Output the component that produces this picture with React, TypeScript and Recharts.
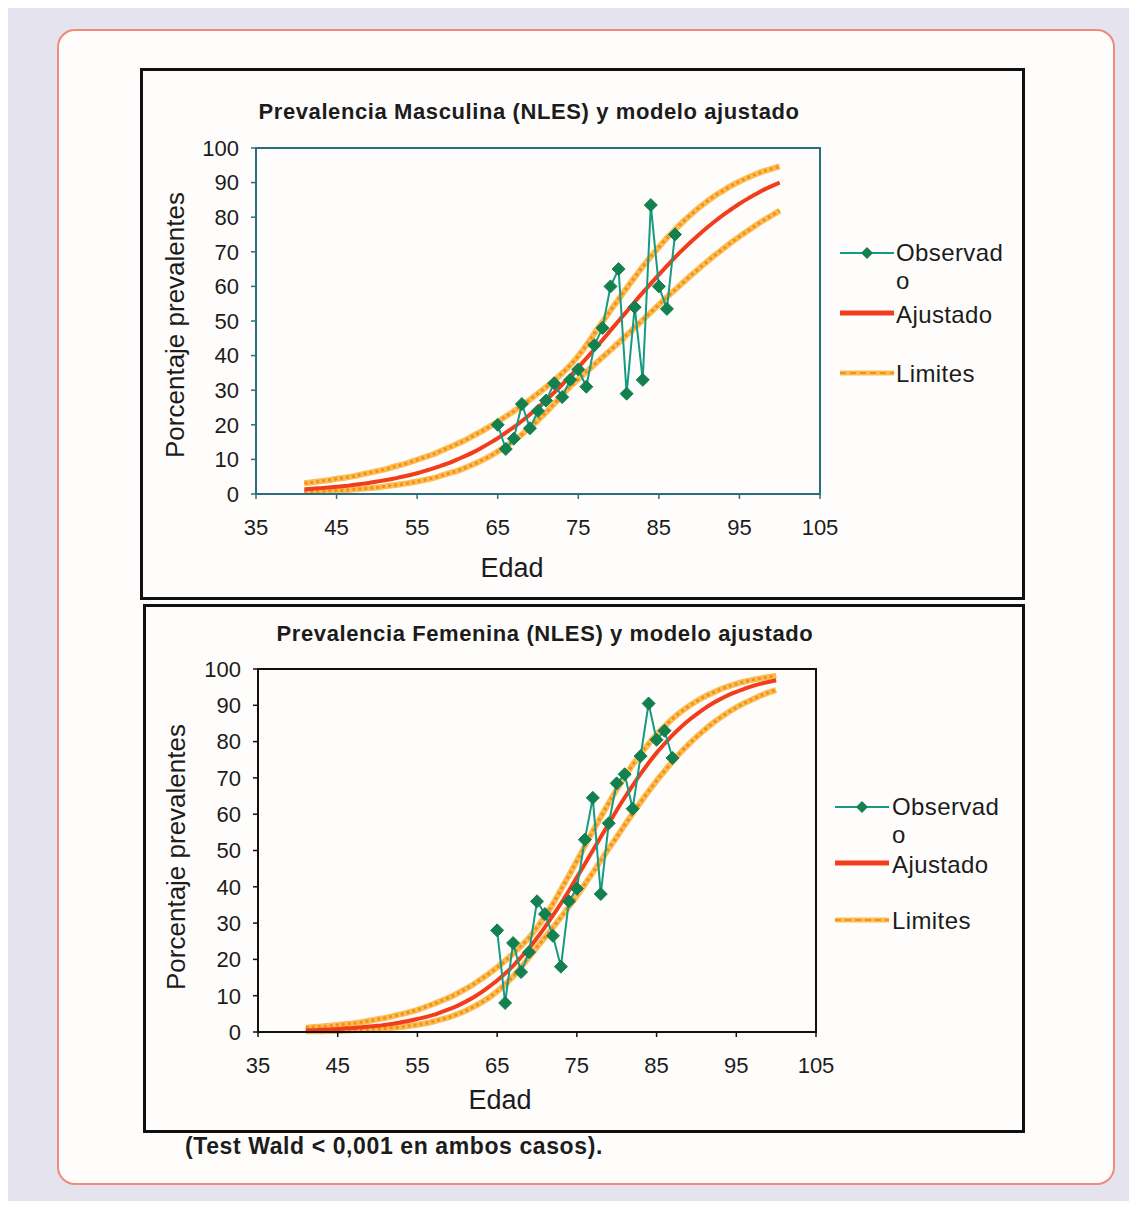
import React from "react";
import { ComposedChart, Line, ReferenceArea, XAxis, YAxis } from "recharts";

const FONT = '"Liberation Sans", Arial, Helvetica, sans-serif';

// edad (eje X) de las curvas del modelo
const ages = [
  41, 42, 43, 44, 45, 46, 47, 48, 49, 50,
  51, 52, 53, 54, 55, 56, 57, 58, 59, 60,
  61, 62, 63, 64, 65, 66, 67, 68, 69, 70,
  71, 72, 73, 74, 75, 76, 77, 78, 79, 80,
  81, 82, 83, 84, 85, 86, 87, 88, 89, 90,
  91, 92, 93, 94, 95, 96, 97, 98, 99, 100,
];

// edades con dato observado
const obsAges = [65, 66, 67, 68, 69, 70, 71, 72, 73, 74, 75, 76, 77, 78, 79, 80, 81, 82, 83, 84, 85, 86, 87];

const xTicks = [35, 45, 55, 65, 75, 85, 95, 105];
const yTicks = [0, 10, 20, 30, 40, 50, 60, 70, 80, 90, 100];

// --- Masculina ---
const maleObserved = [20, 13, 16, 26, 19, 24, 27, 32, 28, 33, 36, 31, 43, 48, 60, 65, 29, 54, 33, 83.5, 60, 53.5, 75];
const maleFit = [
  1.4, 1.5, 1.7, 1.9, 2.1, 2.3, 2.6, 2.9, 3.2, 3.6,
  4.0, 4.4, 4.9, 5.4, 6.0, 6.7, 7.4, 8.2, 9.0, 10.0,
  11.0, 12.1, 13.4, 14.7, 16.1, 17.7, 19.3, 21.1, 23.0, 25.0,
  27.1, 29.3, 31.6, 34.1, 36.6, 39.2, 41.8, 44.5, 47.3, 50.0,
  52.7, 55.5, 58.2, 60.8, 63.4, 65.9, 68.4, 70.7, 72.9, 75.0,
  77.0, 78.9, 80.7, 82.3, 83.9, 85.3, 86.6, 87.9, 89.0, 90.0,
];
const maleUpper = [
  3.1, 3.4, 3.7, 4.0, 4.4, 4.7, 5.1, 5.6, 6.1, 6.6,
  7.1, 7.8, 8.4, 9.1, 9.9, 10.7, 11.5, 12.5, 13.5, 14.5,
  15.6, 16.9, 18.1, 19.5, 20.9, 22.4, 23.9, 25.6, 27.3, 29.1,
  30.9, 32.8, 34.9, 37.2, 39.9, 43.0, 46.4, 49.7, 53.0, 56.3,
  59.5, 62.6, 65.7, 68.6, 71.3, 74.0, 76.4, 78.7, 80.8, 82.8,
  84.6, 86.3, 87.7, 89.1, 90.3, 91.4, 92.4, 93.3, 94.0, 94.7,
];
const maleLower = [
  0.6, 0.7, 0.8, 0.9, 1.0, 1.1, 1.3, 1.5, 1.7, 1.9,
  2.2, 2.5, 2.8, 3.2, 3.6, 4.1, 4.6, 5.3, 6.0, 6.7,
  7.6, 8.6, 9.7, 10.9, 12.3, 13.8, 15.4, 17.2, 19.2, 21.3,
  23.6, 26.0, 28.6, 31.0, 33.2, 35.3, 37.4, 39.5, 41.6, 43.7,
  45.9, 48.1, 50.3, 52.5, 54.7, 56.9, 59.0, 61.1, 63.2, 65.2,
  67.2, 69.1, 70.9, 72.7, 74.4, 76.0, 77.6, 79.1, 80.5, 81.9,
];

// --- Femenina ---
const femaleObserved = [28, 8, 24.5, 16.5, 22, 36, 32.5, 26.5, 18, 36, 39.5, 53, 64.5, 38, 57.5, 68.5, 71, 61.5, 76, 90.5, 80.5, 83, 75.5];
const femaleFit = [
  0.5, 0.5, 0.6, 0.7, 0.8, 1.0, 1.1, 1.3, 1.5, 1.7,
  2.0, 2.3, 2.7, 3.1, 3.6, 4.1, 4.7, 5.5, 6.3, 7.2,
  8.3, 9.5, 10.9, 12.5, 14.2, 16.1, 18.2, 20.6, 23.1, 25.9,
  28.9, 32.1, 35.4, 38.9, 42.6, 46.3, 50.0, 53.7, 57.4, 61.1,
  64.6, 67.9, 71.1, 74.1, 76.9, 79.4, 81.8, 83.9, 85.8, 87.5,
  89.1, 90.5, 91.7, 92.8, 93.7, 94.5, 95.3, 95.9, 96.4, 96.9,
];
const femaleUpper = [
  1.2, 1.4, 1.5, 1.7, 1.9, 2.2, 2.4, 2.7, 3.1, 3.5,
  3.9, 4.4, 4.9, 5.5, 6.1, 6.9, 7.7, 8.6, 9.5, 10.6,
  11.8, 13.1, 14.6, 16.1, 17.8, 19.6, 21.6, 23.7, 26.0, 28.8,
  31.9, 35.3, 39.2, 43.1, 47.1, 51.2, 55.3, 59.2, 63.1, 66.8,
  70.3, 73.6, 76.6, 79.4, 82.0, 84.2, 86.3, 88.1, 89.7, 91.1,
  92.4, 93.4, 94.4, 95.2, 95.9, 96.5, 97.0, 97.4, 97.8, 98.1,
];
const femaleLower = [
  0.2, 0.2, 0.2, 0.3, 0.3, 0.4, 0.5, 0.6, 0.7, 0.8,
  1.0, 1.2, 1.4, 1.7, 2.0, 2.4, 2.9, 3.5, 4.1, 4.9,
  5.8, 6.9, 8.1, 9.5, 11.2, 13.1, 15.3, 17.8, 20.6, 23.4,
  26.1, 28.8, 31.6, 34.5, 37.5, 40.7, 43.9, 47.2, 50.5, 53.7,
  57.0, 60.2, 63.3, 66.3, 69.2, 71.9, 74.5, 77.0, 79.2, 81.3,
  83.2, 85.0, 86.6, 88.1, 89.4, 90.6, 91.6, 92.6, 93.5, 94.2,
];

const GREEN_LINE = "#169a80";
const GREEN_DOT = "#12804f";
const RED = "#f23d1c";
const ORANGE_HALO = "#fbbd55";
const ORANGE = "#f39018";

const Diamond = (props: any) => {
  const { cx, cy, index } = props;
  if (cx == null || cy == null) return null;
  const r = 6.5;
  return (
    <path
      key={`d-${index}`}
      d={`M${cx},${cy - r}L${cx + r},${cy}L${cx},${cy + r}L${cx - r},${cy}Z`}
      fill={GREEN_DOT}
      stroke={GREEN_DOT}
      strokeWidth={1}
    />
  );
};

type ChartProps = {
  fit: number[];
  upper: number[];
  lower: number[];
  observed: number[];
  axisColor: string;
  left: number;
  top: number;
  width: number;
  height: number;
  margin: { top: number; right: number; bottom: number; left: number };
};

function PrevalenceChart({ fit, upper, lower, observed, axisColor, left, top, width, height, margin }: ChartProps) {
  const curveRows = ages.map((age, i) => ({ age, fit: fit[i], upper: upper[i], lower: lower[i] }));
  const obsRows = obsAges.map((age, i) => ({ age, obs: observed[i] }));
  const tickStyle = { fill: "#1c1c1c", fontSize: 22, fontFamily: FONT };

  return (
    <div style={{ position: "absolute", left, top }}>
      <ComposedChart width={width} height={height} data={curveRows} margin={margin}>
        <XAxis
          dataKey="age"
          type="number"
          domain={[35, 105]}
          ticks={xTicks}
          interval={0}
          height={40}
          tickSize={5}
          tickMargin={20}
          axisLine={{ stroke: axisColor, strokeWidth: 2 }}
          tickLine={{ stroke: axisColor, strokeWidth: 1.5 }}
          tick={tickStyle}
        />
        <YAxis
          type="number"
          domain={[0, 100]}
          ticks={yTicks}
          interval={0}
          width={60}
          tickSize={5}
          tickMargin={12}
          axisLine={{ stroke: axisColor, strokeWidth: 2 }}
          tickLine={{ stroke: axisColor, strokeWidth: 1.5 }}
          tick={tickStyle}
        />
        <ReferenceArea x1={35} x2={105} y1={0} y2={100} fill="none" stroke={axisColor} strokeWidth={2} />
        <Line dataKey="upper" type="monotone" stroke={ORANGE_HALO} strokeWidth={6} dot={false} isAnimationActive={false} />
        <Line dataKey="upper" type="monotone" stroke={ORANGE} strokeWidth={3} strokeDasharray="3 3" dot={false} isAnimationActive={false} />
        <Line dataKey="lower" type="monotone" stroke={ORANGE_HALO} strokeWidth={6} dot={false} isAnimationActive={false} />
        <Line dataKey="lower" type="monotone" stroke={ORANGE} strokeWidth={3} strokeDasharray="3 3" dot={false} isAnimationActive={false} />
        <Line dataKey="fit" type="monotone" stroke={RED} strokeWidth={4} dot={false} isAnimationActive={false} />
        <Line
          data={obsRows}
          dataKey="obs"
          type="linear"
          stroke={GREEN_LINE}
          strokeWidth={2}
          dot={Diamond}
          isAnimationActive={false}
        />
      </ComposedChart>
    </div>
  );
}

type LegendProps = { left: number; greenY: number; redY: number; orangeY: number; textLeft: number };

function ChartLegend({ left, greenY, redY, orangeY, textLeft }: LegendProps) {
  const text: React.CSSProperties = {
    position: "absolute",
    left: textLeft,
    fontFamily: FONT,
    fontSize: 24,
    lineHeight: "28px",
    letterSpacing: 0.4,
    color: "#1c1c1c",
    whiteSpace: "nowrap",
  };
  return (
    <>
      <svg style={{ position: "absolute", left, top: greenY - 10 }} width={54} height={20}>
        <line x1={0} y1={10} x2={54} y2={10} stroke={GREEN_LINE} strokeWidth={2} />
        <path d="M27,4L33,10L27,16L21,10Z" fill={GREEN_DOT} />
      </svg>
      <div style={{ ...text, top: greenY - 14 }}>Observad</div>
      <div style={{ ...text, top: greenY + 14 }}>o</div>
      <svg style={{ position: "absolute", left, top: redY - 10 }} width={54} height={20}>
        <line x1={0} y1={10} x2={54} y2={10} stroke={RED} strokeWidth={5} />
      </svg>
      <div style={{ ...text, top: redY - 12 }}>Ajustado</div>
      <svg style={{ position: "absolute", left, top: orangeY - 10 }} width={54} height={20}>
        <line x1={0} y1={10} x2={54} y2={10} stroke={ORANGE_HALO} strokeWidth={5} />
        <line x1={0} y1={10} x2={54} y2={10} stroke={ORANGE} strokeWidth={2} strokeDasharray="6 4" />
      </svg>
      <div style={{ ...text, top: orangeY - 13 }}>Limites</div>
    </>
  );
}

const centered = (x: number, y: number, extra: React.CSSProperties = {}): React.CSSProperties => ({
  position: "absolute",
  left: x,
  top: y,
  transform: "translate(-50%, -50%)",
  whiteSpace: "nowrap",
  fontFamily: FONT,
  color: "#1c1c1c",
  ...extra,
});

const titleStyle: React.CSSProperties = { fontSize: 22, fontWeight: "bold", letterSpacing: 0.6 };

export default function App() {
  return (
    <div style={{ position: "relative", width: 1121, height: 1193, background: "#e5e3ed", overflow: "hidden" }}>
      <div
        style={{
          position: "absolute",
          left: 49,
          top: 21,
          width: 1058,
          height: 1156,
          boxSizing: "border-box",
          border: "2px solid #ee8b7b",
          borderRadius: 18,
          background: "#fffdfb",
        }}
      />
      <div style={{ position: "absolute", left: 132, top: 60, width: 885, height: 532, boxSizing: "border-box", border: "3px solid #111" }} />
      <div style={{ position: "absolute", left: 135, top: 596, width: 882, height: 529, boxSizing: "border-box", border: "3px solid #111" }} />

      {/* Masculina */}
      <div style={centered(521, 104, titleStyle)}>Prevalencia Masculina (NLES) y modelo ajustado</div>
      <PrevalenceChart
        fit={maleFit}
        upper={maleUpper}
        lower={maleLower}
        observed={maleObserved}
        axisColor="#2a6f7f"
        left={140}
        top={100}
        width={700}
        height={440}
        margin={{ top: 40, right: 28, bottom: 14, left: 48 }}
      />
      <div style={centered(167, 317, { fontSize: 26, transform: "translate(-50%, -50%) rotate(-90deg)" })}>Porcentaje prevalentes</div>
      <div style={centered(504, 560, { fontSize: 27 })}>Edad</div>
      <ChartLegend left={832} textLeft={888} greenY={245} redY={305} orangeY={365} />

      {/* Femenina */}
      <div style={centered(537, 626, titleStyle)}>Prevalencia Femenina (NLES) y modelo ajustado</div>
      <PrevalenceChart
        fit={femaleFit}
        upper={femaleUpper}
        lower={femaleLower}
        observed={femaleObserved}
        axisColor="#111111"
        left={140}
        top={620}
        width={700}
        height={450}
        margin={{ top: 41, right: 32, bottom: 6, left: 50 }}
      />
      <div style={centered(168, 849, { fontSize: 26, transform: "translate(-50%, -50%) rotate(-90deg)" })}>Porcentaje prevalentes</div>
      <div style={centered(492, 1092, { fontSize: 27 })}>Edad</div>
      <ChartLegend left={827} textLeft={884} greenY={799} redY={855} orangeY={912} />

      <div
        style={{
          position: "absolute",
          left: 177,
          top: 1125,
          fontFamily: FONT,
          fontSize: 23,
          fontWeight: "bold",
          letterSpacing: 0.6,
          color: "#1c1c1c",
          whiteSpace: "nowrap",
        }}
      >
        (Test Wald &lt; 0,001 en ambos casos).
      </div>
    </div>
  );
}
